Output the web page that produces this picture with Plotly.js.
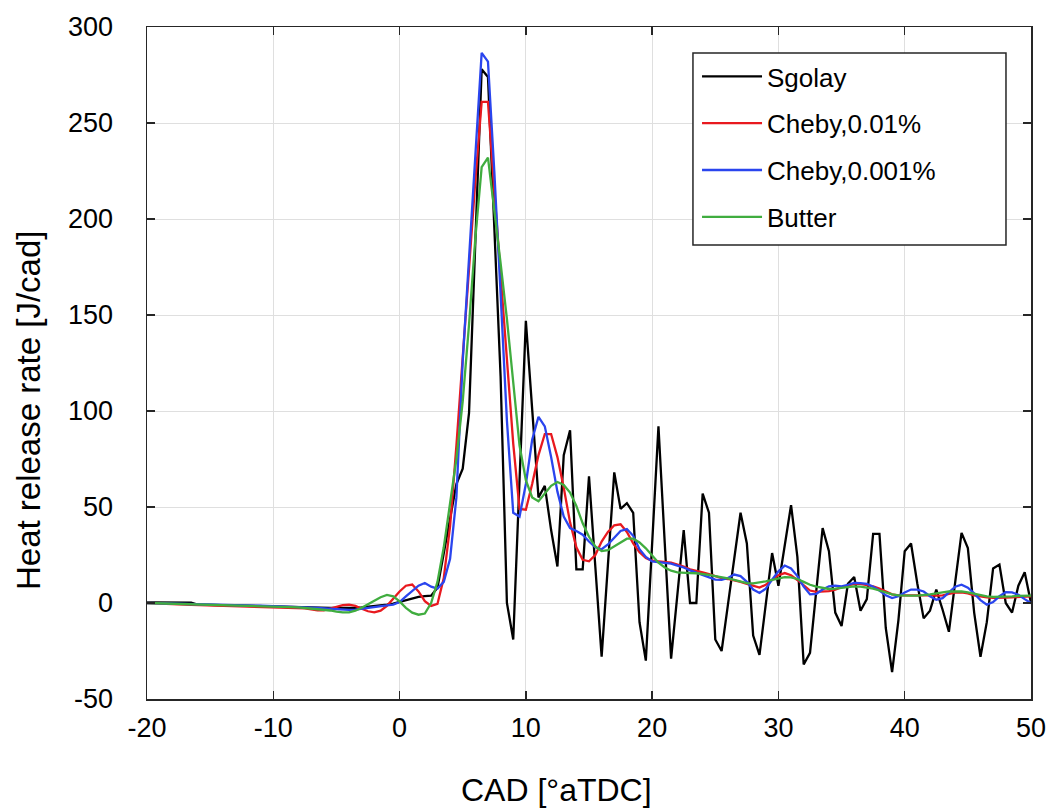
<!DOCTYPE html>
<html>
<head>
<meta charset="utf-8">
<script src="https://cdn.plot.ly/plotly-3.0.1.min.js"></script>
<style>
  html, body { margin: 0; padding: 0; background: #ffffff; }
  #chart { width: 1047px; height: 811px; }
</style>
</head>
<body>
<div id="chart"></div>
<script>
// Crank angle [°aTDC]
const cad = [
  -20,-19.5,-19,-18.5,-18,-17.5,-17,-16.5,-16,-15.5,
  -15,-14.5,-14,-13.5,-13,-12.5,-12,-11.5,-11,-10.5,
  -10,-9.5,-9,-8.5,-8,-7.5,-7,-6.5,-6,-5.5,
  -5,-4.5,-4,-3.5,-3,-2.5,-2,-1.5,-1,-0.5,
  0,0.5,1,1.5,2,2.5,3,3.5,4,4.5,
  5,5.5,6,6.5,7,7.5,8,8.5,9,9.5,
  10,10.5,11,11.5,12,12.5,13,13.5,14,14.5,
  15,15.5,16,16.5,17,17.5,18,18.5,19,19.5,
  20,20.5,21,21.5,22,22.5,23,23.5,24,24.5,
  25,25.5,26,26.5,27,27.5,28,28.5,29,29.5,
  30,30.5,31,31.5,32,32.5,33,33.5,34,34.5,
  35,35.5,36,36.5,37,37.5,38,38.5,39,39.5,
  40,40.5,41,41.5,42,42.5,43,43.5,44,44.5,
  45,45.5,46,46.5,47,47.5,48,48.5,49,49.5,
  50
];

// Heat release rate [J/cad] per filter
const sgolay = [
  0.3,0.3,0.3,0.3,0.3,0.3,0.3,0.2,-0.8,-0.9,
  -1.0,-1.0,-1.1,-1.2,-1.3,-1.3,-1.4,-1.4,-1.5,-1.5,
  -1.6,-1.7,-1.8,-1.9,-2.0,-2.1,-2.2,-2.3,-2.4,-2.5,
  -2.5,-2.6,-2.6,-2.5,-2.3,-2.0,-1.6,-1.2,-0.8,-0.3,
  0.5,1.5,2.5,3.2,3.6,3.8,8,26,44,62,
  70,99,188,278,274,194,118,0,-19,64,
  147,101,55,61,38,19,77,90,17.5,17.5,
  66,19,-28,20,68,49,52,47,-10,-30,
  31,92,31,-29,4.5,38,0,0,57,47,
  -19,-25,-1,23,47,31,-17,-27,0,26,
  9,30,51,24,-32,-26,6.5,39,27,-5,
  -12,10,13.5,-4,2,36,36,-13,-36,-9,
  27,31,10,-8,-4,7,-3.5,-15,11,36.5,
  28.6,-5,-28,-10,18,20,0,-5,9,16,
  0
];

const cheby001 = [
  0,-0.2,-0.4,-0.5,-0.6,-0.7,-0.8,-0.9,-1.0,-1.0,
  -1.1,-1.2,-1.3,-1.4,-1.5,-1.6,-1.7,-1.8,-1.9,-2.0,
  -2.1,-2.2,-2.3,-2.4,-2.5,-2.8,-3.3,-3.8,-3.8,-2.8,
  -1.8,-1.1,-0.9,-1.5,-3.0,-4.3,-4.9,-4.0,-1.5,2.5,
  6,9,9.6,6,1,-1.5,-0.5,13,40,82,
  128,175,220,261,261,215,170,125,83,49,
  48.6,62,77,88,88,76,60,42,29,22.5,
  21.7,25,32,37,40.5,41,37,31,26.5,23.4,
  22,21.7,21.5,21,20,19,17.5,16.8,16,15,
  14,13,12.5,11.8,11,10,8.8,8,9.5,12,
  14.5,15.6,14.5,12,9,6.5,5.8,6,6.2,7,
  8.3,9,10,10,9.5,8.7,7.5,6,4.5,4,
  4,4.2,4.3,4.2,4,3.8,4,4.8,5.4,5.6,
  5,4,3.4,3,2.7,2.6,2.8,3,3.2,3.4,
  3.5
];

const cheby0001 = [
  0,-0.1,-0.2,-0.3,-0.4,-0.5,-0.6,-0.7,-0.8,-0.9,
  -0.9,-1.0,-1.0,-1.1,-1.2,-1.2,-1.3,-1.4,-1.4,-1.5,
  -1.5,-1.6,-1.7,-1.8,-2.0,-2.2,-2.4,-2.6,-2.8,-3.1,
  -3.3,-3.5,-3.6,-3.5,-3.0,-2.3,-1.8,-1.4,-1.2,-0.8,
  0.5,3.5,6.5,9,10.4,8.5,7.5,11,23,55,
  126,180,233,286.5,282,225,161,95,47,45,
  62,85,97,92,76,58,45,39,37.5,35.6,
  32,29,28,30.5,34,37.5,38.5,35,28,24,
  21.7,21.3,21.1,20.5,19.5,18.5,17,15.8,14.5,13,
  12.2,12,13,14.8,14,11,7,5.2,7.5,12.2,
  16.5,19.5,18,14,8.5,4.5,4.8,7,8.7,9,
  8.7,9.5,10.5,10.3,10,8.5,6.5,4,2.6,3.5,
  5.5,7,7,6,3.5,1.7,2.5,5.5,8.5,9.5,
  8,5,1.5,-0.9,0.5,3.5,5.6,5.5,4.3,2,
  -0.1
];

const butter = [
  0,-0.1,-0.2,-0.3,-0.4,-0.5,-0.6,-0.7,-0.8,-0.9,
  -1.0,-1.0,-1.1,-1.2,-1.2,-1.3,-1.4,-1.5,-1.5,-1.6,
  -1.7,-1.8,-1.9,-2.1,-2.3,-2.6,-2.9,-3.2,-3.5,-3.9,
  -4.5,-4.9,-4.9,-4.0,-2.5,-0.5,1.2,3.0,4.2,3.5,
  0.8,-2.5,-5,-6.1,-5.5,0,11,29,52,75,
  105,145,190,227,232,206,177,148,113,82,
  64,55,53,57,61,63,61.5,57.5,50.5,41.5,
  34.5,29.5,27,27.5,29.5,31.5,33.5,33.5,31.5,28.5,
  24.5,21,18.5,16.8,16,15.7,15.6,15.5,15.2,14.6,
  14,13.5,12.8,12,11,10.3,10.2,10.6,11.3,12,
  12.8,13.5,13.3,12.5,11,9.5,8.5,7.8,7.3,7.5,
  8,8.5,8.7,8.5,8,7.5,6.5,5.3,4.5,4,
  3.8,3.8,3.8,4,4.5,5,5.5,6,6.1,6,
  5.5,4.8,4,3.5,3.2,3.2,3.3,3.5,3.7,3.8,
  3.8
];

const seriesNames = ['Sgolay', 'Cheby,0.01%', 'Cheby,0.001%', 'Butter'];
const seriesValues = [sgolay, cheby001, cheby0001, butter];
const seriesColors = ['#000000', '#e8191f', '#2a45ee', '#40ad3f'];

const xTicks = [-20, -10, 0, 10, 20, 30, 40, 50];
const yTicks = [-50, 0, 50, 100, 150, 200, 250, 300];

const xTitle = 'CAD [°aTDC]';
const yTitle = 'Heat release rate [J/cad]';

const font = 'Liberation Sans, Arial, Helvetica, sans-serif';
const axisColor = '#262626';

const traces = seriesNames.map((name, i) => ({
  type: 'scatter',
  mode: 'lines',
  name: name,
  x: cad,
  y: seriesValues[i],
  legendgroup: 'g' + i,
  line: { color: seriesColors[i], width: 2.3 },
  hoverinfo: 'skip'
}));

const axisCommon = {
  showline: true,
  linecolor: axisColor,
  linewidth: 1.5,
  mirror: 'ticks',
  ticks: 'inside',
  ticklen: 8,
  tickwidth: 1.5,
  tickcolor: axisColor,
  showgrid: true,
  gridcolor: '#dfdfdf',
  gridwidth: 1,
  zeroline: false,
  ticklabeloverflow: 'allow',
  tickfont: { family: font, size: 27, color: '#000000' }
};

const layout = {
  width: 1047,
  height: 811,
  paper_bgcolor: '#ffffff',
  plot_bgcolor: '#ffffff',
  margin: { l: 147, r: 16, t: 27, b: 112 },
  showlegend: true,
  xaxis: Object.assign({}, axisCommon, {
    range: [-20, 50],
    tickmode: 'array',
    tickvals: xTicks,
    ticktext: xTicks.map(String),
    ticklabelstandoff: 4
  }),
  yaxis: Object.assign({}, axisCommon, {
    range: [-50, 300],
    tickmode: 'array',
    tickvals: yTicks,
    ticktext: yTicks.map(String),
    ticklabelstandoff: 27
  }),
  shapes: [
    {
      type: 'rect', xref: 'paper', yref: 'paper', layer: 'above',
      x0: 0.6176, x1: 0.9717, y0: 0.6756, y1: 0.9613,
      fillcolor: '#ffffff', line: { color: axisColor, width: 1.5 }
    }
  ],
  annotations: [
    {
      text: xTitle, xref: 'paper', yref: 'paper',
      x: 0.4638, y: -0.1354, xanchor: 'center', yanchor: 'middle',
      showarrow: false, font: { family: font, size: 32, color: '#000000' }
    },
    {
      text: yTitle, xref: 'paper', yref: 'paper', textangle: -90,
      x: -0.1346, y: 0.43, xanchor: 'center', yanchor: 'middle',
      showarrow: false, font: { family: font, size: 33, color: '#000000' }
    }
  ],
  legend: {
    x: 0.6222,
    y: 0.9613,
    xanchor: 'left',
    yanchor: 'top',
    bgcolor: 'rgba(0,0,0,0)',
    borderwidth: 0,
    font: { family: font, size: 26, color: '#000000' },
    traceorder: 'grouped',
    tracegroupgap: 10,
    itemwidth: 60
  }
};

Plotly.newPlot('chart', traces, layout, { displayModeBar: false, staticPlot: true });
</script>
</body>
</html>
